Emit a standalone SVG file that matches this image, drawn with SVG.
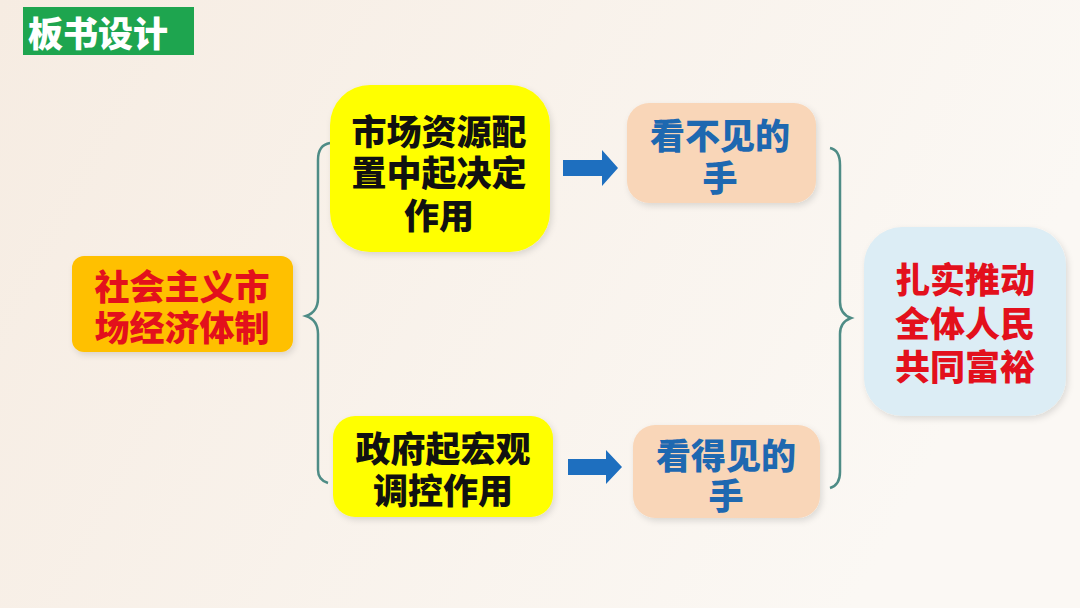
<svg xmlns="http://www.w3.org/2000/svg" width="1080" height="608" viewBox="0 0 1080 608">
<defs>
<linearGradient id="bg" x1="0" y1="0" x2="1" y2="0.3">
<stop offset="0" stop-color="#F6ECE2"/>
<stop offset="1" stop-color="#FBF8F4"/>
</linearGradient>
<filter id="sh" x="-10%" y="-10%" width="125%" height="130%">
<feDropShadow dx="2" dy="3" stdDeviation="3" flood-color="#000" flood-opacity="0.12"/>
</filter>
<style>
.t{font-family:"Noto Sans CJK SC","Noto Sans",sans-serif;font-weight:900;font-size:35px;text-anchor:middle;dominant-baseline:central}
.red{fill:#E3101C}
.blk{fill:#111}
.blu{fill:#1E68B0}
.wht{fill:#fff}
.brace{fill:none;stroke:#4E8C86;stroke-width:2.5}
.arr{fill:#1E6FBF}
</style>
</defs>
<rect width="1080" height="608" fill="url(#bg)"/>
<g id="title">
<rect x="23" y="7" width="171" height="48" fill="#1EA54F"/>
<text class="t wht" x="98" y="31">板书设计</text>
</g>
<g id="connectors">
<path class="brace" d="M330,143 Q318,145 318,160 L318,298 Q318,312 306,316 Q318,320 318,334 L318,470 Q318,480 328,483"/>
<path class="brace" d="M830,148 Q840,150 840,165 L840,302 Q840,314 851,318 Q840,322 840,334 L840,472 Q840,485 830,488"/>
<polygon class="arr" points="563,160 602,160 602,150 618,168 602,186 602,176 563,176"/>
<polygon class="arr" points="568,459 606,459 606,450 622,467 606,484 606,475 568,475"/>
</g>
<g id="n-system">
<rect x="72" y="256" width="221" height="96" rx="12" fill="#FFC000" filter="url(#sh)"/>
<text class="t red"><tspan x="182" y="284">社会主义市</tspan><tspan x="182" y="325">场经济体制</tspan></text>
</g>
<g id="n-market">
<rect x="330" y="85" width="220" height="167" rx="40" fill="#FFFF00" filter="url(#sh)"/>
<text class="t blk"><tspan x="439" y="129">市场资源配</tspan><tspan x="439" y="170">置中起决定</tspan><tspan x="439" y="213">作用</tspan></text>
</g>
<g id="n-invisible">
<rect x="627" y="103" width="189" height="100" rx="22" fill="#F9D6B8" filter="url(#sh)"/>
<text class="t blu"><tspan x="720" y="133">看不见的</tspan><tspan x="720" y="175">手</tspan></text>
</g>
<g id="n-gov">
<rect x="333" y="416" width="220" height="101" rx="22" fill="#FFFF00" filter="url(#sh)"/>
<text class="t blk"><tspan x="443" y="446">政府起宏观</tspan><tspan x="443" y="488">调控作用</tspan></text>
</g>
<g id="n-visible">
<rect x="633" y="425" width="187" height="93" rx="22" fill="#F9D6B8" filter="url(#sh)"/>
<text class="t blu"><tspan x="726" y="453">看得见的</tspan><tspan x="726" y="493">手</tspan></text>
</g>
<g id="n-common">
<rect x="864" y="227" width="202" height="189" rx="38" fill="#DCEDF5" filter="url(#sh)"/>
<text class="t red"><tspan x="965" y="277">扎实推动</tspan><tspan x="965" y="321">全体人民</tspan><tspan x="965" y="364">共同富裕</tspan></text>
</g>
</svg>
